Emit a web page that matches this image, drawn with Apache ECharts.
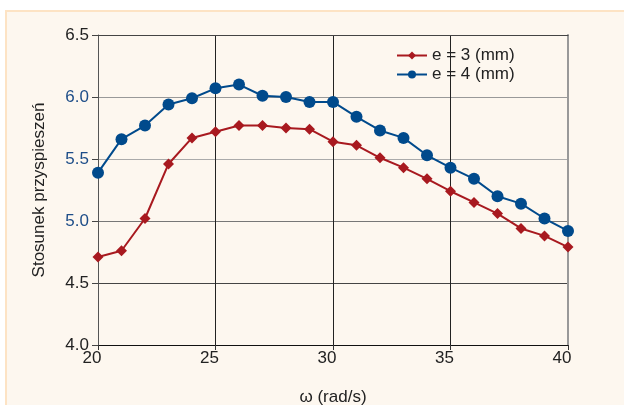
<!DOCTYPE html>
<html>
<head>
<meta charset="utf-8">
<script src="https://cdn.jsdelivr.net/npm/echarts@6/dist/echarts.min.js"></script>
<style>
html,body{margin:0;padding:0;background:#fff;width:624px;height:405px;overflow:hidden;}
#frame{position:absolute;left:5px;top:10px;width:619px;height:395px;background:#fdf7ef;border-left:2px solid #fde3c4;border-top:2px solid #fde3c4;box-sizing:border-box;}
#chart{position:absolute;left:0;top:0;width:624px;height:405px;}
</style>
</head>
<body>
<div id="frame"></div>
<div id="chart"></div>
<script>
const omega = [20,21,22,23,24,25,26,27,28,29,30,31,32,33,34,35,36,37,38,39,40];
const e3 = [4.71,4.76,5.02,5.46,5.67,5.72,5.77,5.77,5.75,5.74,5.64,5.61,5.51,5.43,5.34,5.24,5.15,5.06,4.94,4.88,4.79];
const e4 = [5.39,5.66,5.77,5.94,5.99,6.07,6.10,6.01,6.00,5.96,5.96,5.84,5.73,5.67,5.53,5.43,5.34,5.20,5.14,5.02,4.92];
const xTicks = [20,25,30,35,40];
const yTicks = [4.0,4.5,5.0,5.5,6.0,6.5];
const seriesNames = ['e = 3 (mm)','e = 4 (mm)'];
const xName = 'ω (rad/s)';
const yName = 'Stosunek przyspieszeń';

const chart = echarts.init(document.getElementById('chart'), null, {renderer:'canvas'});
const font = 'Liberation Sans, Arial, sans-serif';
chart.setOption({
  backgroundColor: 'transparent',
  animation: false,
  textStyle: {fontFamily: font},
  grid: {left: 98, right: 56, top: 35, bottom: 60, containLabel: false, outerBoundsMode: 'none'},
  legend: {
    orient: 'vertical', left: 391, top: 42, itemGap: 2,
    itemWidth: 30, itemHeight: 10,
    textStyle: {fontSize: 17, color: '#222', fontFamily: font},
    data: seriesNames
  },
  xAxis: [{
    type: 'value', min: xTicks[0], max: xTicks[xTicks.length-1], interval: 5,
    name: xName, nameLocation: 'middle', nameGap: 44,
    nameTextStyle: {fontSize: 17, color: '#222', fontFamily: font},
    axisLine: {show: true, onZero: false, lineStyle: {color: '#111', width: 1}},
    axisTick: {show: true, inside: false, length: 5, lineStyle: {color: '#333'}},
    axisLabel: {fontSize: 17, color: '#222', margin: 5, padding: [0,12,0,0]},
    splitLine: {show: true, lineStyle: {color: ['#555','#222','#222','#222','#999'], width: 1}}
  },{
    type: 'value', position: 'top', min: 20, max: 40,
    axisLine: {show: true, lineStyle: {color: '#444', width: 1}},
    axisTick: {show: false}, axisLabel: {show: false}, splitLine: {show: false}
  }],
  yAxis: [{
    type: 'value', min: yTicks[0], max: yTicks[yTicks.length-1], interval: 0.5,
    name: yName, nameLocation: 'middle', nameGap: 50, nameRotate: 90,
    nameTextStyle: {fontSize: 17, color: '#222'},
    axisLine: {show: true, lineStyle: {color: '#555', width: 1}},
    axisTick: {show: true, length: 6, lineStyle: {color: '#444'}},
    axisLabel: {
      fontSize: 17, margin: 9,
      formatter: v => v.toFixed(1),
      color: v => (v >= 4.99 && v <= 6.01) ? '#1d4d88' : '#222'
    },
    splitLine: {show: true, lineStyle: {color: ['#555','#444','#777','#aaa','#999','#444'], width: 1}}
  },{
    type: 'value', position: 'right', min: 4, max: 6.5,
    axisLine: {show: true, lineStyle: {color: '#999', width: 2}},
    axisTick: {show: false}, axisLabel: {show: false}, splitLine: {show: false}
  }],
  series: [{
    name: seriesNames[0], type: 'line',
    data: omega.map((x,i) => [x, e3[i]]),
    symbol: 'diamond', symbolSize: 11,
    lineStyle: {color: '#a8191f', width: 2},
    itemStyle: {color: '#a8191f'},
    z: 3
  },{
    name: seriesNames[1], type: 'line',
    data: omega.map((x,i) => [x, e4[i]]),
    symbol: 'circle', symbolSize: 12,
    lineStyle: {color: '#004a8c', width: 2},
    itemStyle: {color: '#004a8c'},
    z: 4
  }]
});
</script>
</body>
</html>
